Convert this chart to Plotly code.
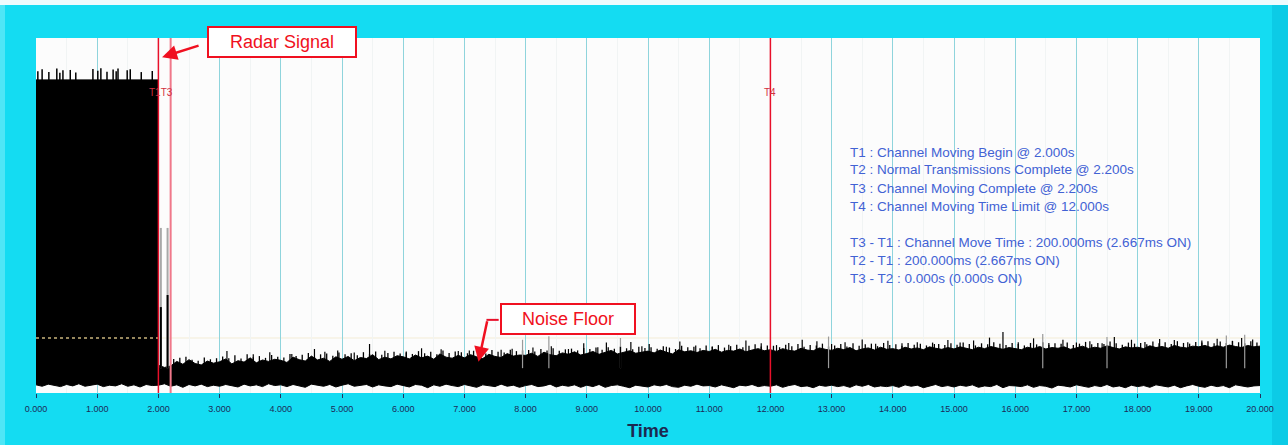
import plotly.graph_objects as go

# ---------------- data ----------------
x_ticks = list(range(0, 21))
tick_labels = [f"{v:.3f}" for v in x_ticks]

event_names = ["T1T3", "T4"]
event_times = {"T1": 2.0, "T2": 2.2, "T3": 2.2, "T4": 12.0}

# radar burst block (0 .. 2.0 s)
block_start = 0.0
block_end = 2.0
block_top = 88.2
block_spike_t = [0.03, 0.10, 0.21, 0.34, 0.39, 0.44, 0.56, 0.65, 0.93, 1.01,
                 1.06, 1.16, 1.26, 1.31, 1.34, 1.49, 1.54, 1.72, 1.90]
block_spike_y = [90.6, 91.2, 90.4, 91.4, 90.2, 90.9, 91.0, 90.3, 91.3, 90.8,
                 91.5, 90.5, 91.1, 90.6, 91.4, 90.9, 91.2, 90.4, 90.7]

# residual pulses between T1 and T3
pulse_t = [2.04, 2.15]
pulse_grey = [46.5, 46.5]
pulse_black = [24.2, 27.6]

# noise floor upper envelope, 2.2 s .. 20.0 s every 0.1 s
noise_top = [
    7.6, 8.9, 8.1, 9.4, 8.3, 7.9, 9.0, 8.4,
    8.8, 9.6, 8.2, 9.1, 8.7, 9.9, 8.5, 9.3, 8.9, 9.5,
    9.2, 8.6, 10.1, 9.4, 9.0, 10.4, 9.3, 9.8, 8.9, 10.2,
    9.5, 10.3, 9.1, 10.0, 9.7, 10.8, 9.4, 10.1, 9.6, 10.5,
    10.2, 9.6, 10.7, 9.9, 10.4, 9.5, 11.0, 10.1, 9.8, 10.6,
    9.9, 10.8, 10.2, 9.7, 10.9, 10.3, 10.0, 11.1, 10.4, 10.7,
    10.6, 11.2, 10.3, 11.5, 10.8, 10.5, 11.3, 10.9, 11.6, 10.7,
    11.1, 11.7, 10.9, 11.4, 12.0, 11.0, 11.5, 11.9, 11.2, 11.6,
    11.8, 11.3, 12.1, 11.5, 11.0, 12.2, 11.6, 11.9, 11.4, 12.0,
    11.7, 12.3, 11.5, 12.0, 11.8, 12.4, 11.6, 12.1, 12.5, 11.9,
    12.2, 11.7, 12.5, 12.0, 11.8, 12.6, 12.1, 11.9, 12.7, 12.3,
    12.0, 12.6, 12.2, 12.8, 11.9, 12.4, 12.7, 12.1, 12.9, 12.3,
    12.5, 12.1, 12.9, 12.4, 12.7, 12.2, 13.0, 12.6, 12.3, 12.8,
    12.4, 13.0, 12.6, 12.2, 12.9, 12.5, 13.1, 12.7, 12.3, 12.8,
    12.6, 12.2, 12.9, 12.5, 13.1, 12.4, 12.8, 12.6, 13.0, 12.3,
    12.7, 13.2, 12.5, 12.9, 12.6, 13.3, 12.8, 12.4, 13.0, 12.7,
    12.9, 12.5, 13.3, 12.8, 13.1, 12.6, 13.4, 12.9, 12.7, 13.2,
    13.0, 13.4, 12.8, 13.3, 12.9, 13.5, 13.1, 12.8, 13.4, 13.0, 13.2,
]
noise_start = 2.2
noise_step = 0.1

# in-between noise peaks, 2.25 s .. 19.95 s every 0.1 s
mid_peak = [
    9.6, 9.9, 10.2, 9.4, 9.1, 10.0, 9.5, 9.8,
    10.3, 9.8, 10.6, 9.7, 10.9, 10.1, 10.4, 9.9, 10.7, 10.2,
    10.0, 11.0, 10.4, 10.8, 11.3, 10.2, 10.9, 11.1, 10.5, 11.4,
    10.9, 11.2, 10.6, 11.5, 11.0, 11.7, 10.8, 11.3, 11.6, 11.1,
    11.4, 11.0, 11.8, 11.2, 11.6, 10.9, 12.0, 11.3, 11.7, 11.5,
    11.2, 11.9, 11.5, 11.1, 12.1, 11.6, 11.4, 12.2, 11.8, 12.0,
    12.1, 11.7, 12.4, 12.0, 12.6, 11.9, 12.3, 12.5, 12.0, 12.7,
    12.4, 12.8, 12.2, 12.9, 12.5, 13.1, 12.6, 12.3, 13.0, 12.7,
    12.9, 12.5, 13.2, 12.8, 12.4, 13.3, 12.9, 13.0, 12.6, 13.4,
    13.0, 13.5, 12.8, 13.2, 13.6, 12.9, 13.3, 13.7, 13.1, 13.4,
    13.3, 12.9, 13.6, 13.2, 13.8, 13.0, 13.5, 13.4, 13.9, 13.1,
    13.4, 13.8, 13.1, 14.0, 13.3, 13.7, 13.9, 13.2, 14.1, 13.5,
    13.7, 13.3, 14.1, 13.6, 13.9, 13.4, 14.2, 13.8, 13.5, 14.0,
    13.6, 14.2, 13.8, 13.4, 14.0, 13.7, 14.3, 13.9, 13.5, 14.1,
    13.8, 13.4, 14.1, 13.7, 14.3, 13.6, 14.0, 13.9, 14.2, 13.5,
    13.9, 14.4, 13.7, 14.1, 13.8, 14.5, 14.0, 13.6, 14.2, 13.9,
    14.1, 13.7, 14.5, 14.0, 14.3, 13.8, 14.6, 14.1, 13.9, 14.4,
    14.2, 14.6, 14.0, 14.5, 14.1, 14.7, 14.3, 14.0, 14.6, 14.2,
]
mid_start = 2.25

# lower edge of the trace, 0 .. 20 s every 0.1 s
lower_edge = [
    2.3, 1.9, 2.5, 2.1, 1.8, 2.4, 2.0, 2.6, 1.9, 2.2,
    2.5, 1.8, 2.2, 2.0, 2.6, 1.9, 2.3, 1.7, 2.4, 2.1,
    2.2, 2.6, 1.9, 2.3, 1.6, 2.4, 2.0, 2.5, 1.8, 2.2,
    1.9, 2.4, 2.1, 1.7, 2.5, 2.0, 2.3, 1.8, 2.6, 2.1,
    2.3, 1.8, 2.4, 2.0, 1.6, 2.5, 2.1, 1.9, 2.4, 1.7,
    2.2, 2.6, 1.9, 2.1, 2.4, 1.7, 2.3, 2.0, 1.8, 2.5,
    2.0, 1.7, 2.4, 2.2, 1.5, 2.3, 1.9, 2.5, 2.1, 1.8,
    2.4, 2.0, 1.6, 2.3, 2.1, 1.8, 2.5, 1.9, 2.2, 1.6,
    2.1, 2.4, 1.8, 2.0, 2.5, 1.7, 2.2, 1.9, 2.3, 1.6,
    2.2, 1.8, 2.4, 1.6, 2.1, 2.3, 1.9, 1.5, 2.2, 2.0,
    1.7, 2.3, 2.0, 2.4, 1.8, 1.6, 2.2, 1.9, 2.5, 2.0,
    2.1, 1.7, 2.3, 1.9, 1.5, 2.2, 2.0, 2.4, 1.8, 2.1,
    1.9, 2.3, 1.6, 2.1, 2.4, 1.8, 2.0, 1.5, 2.2, 1.9,
    2.2, 1.8, 2.1, 1.6, 2.3, 1.9, 2.4, 1.7, 2.0, 1.8,
    2.1, 1.6, 2.3, 1.9, 2.2, 1.5, 2.0, 2.4, 1.8, 2.1,
    1.7, 2.2, 1.9, 2.3, 1.6, 2.0, 1.8, 2.4, 1.5, 2.1,
    2.0, 1.8, 2.3, 1.6, 2.1, 1.9, 1.4, 2.2, 2.0, 1.7,
    2.3, 1.9, 1.6, 2.1, 1.8, 2.4, 1.7, 2.0, 1.5, 2.2,
    1.8, 2.1, 1.6, 2.3, 1.9, 1.7, 2.2, 1.5, 2.0, 2.4,
    1.9, 1.6, 2.2, 1.8, 2.1, 1.5, 2.3, 1.9, 1.7, 2.0,
    2.1,
]
lower_step = 0.1

# taller noise spikes
spike_t = [3.12, 3.55, 3.82, 4.18, 4.55, 4.72, 4.93, 5.20, 5.45, 5.70,
           6.05, 6.30, 6.62, 6.90, 7.08, 7.25, 7.60, 7.78, 8.12, 8.42,
           8.70, 8.95, 9.18, 9.32, 9.55, 9.72, 9.90, 10.02, 10.30, 10.52,
           10.78, 11.05, 11.32, 11.60, 11.85, 12.10, 12.30, 12.52, 12.76, 13.00,
           13.22, 13.50, 13.72, 13.92, 14.15, 14.40, 14.68, 14.90, 15.10, 15.32,
           15.58, 15.80, 16.05, 16.30, 16.55, 16.78, 17.00, 17.22, 17.42, 17.62,
           17.90, 18.12, 18.36, 18.60, 18.82, 19.05, 19.30, 19.55, 19.70, 19.88]
spike_y = [11.8, 10.9, 11.5, 11.0, 12.4, 11.6, 12.0, 11.4, 13.8, 11.9,
           11.7, 12.6, 12.3, 11.8, 12.0, 12.9, 12.2, 12.5, 12.8, 13.2,
           12.4, 14.0, 12.9, 14.2, 13.0, 14.4, 13.2, 13.8, 13.0, 14.5,
           13.4, 13.1, 13.6, 14.8, 14.0, 13.5, 14.1, 15.0, 14.6, 13.8,
           14.3, 15.1, 13.9, 14.7, 14.0, 14.3, 13.8, 14.9, 14.2, 14.8,
           15.6, 17.2, 14.3, 15.4, 14.1, 15.0, 14.2, 14.6, 14.0, 15.8,
           15.0, 14.4, 15.2, 14.9, 14.3, 14.8, 15.3, 14.6, 15.5, 15.1]
grey_spike_t = [7.95, 8.38, 9.55, 12.95, 16.45, 17.50, 19.45, 19.75]
grey_spike_y = [15.0, 16.0, 15.5, 15.9, 16.6, 15.8, 16.2, 16.4]
spike_base = 7.0

threshold_level = 15.5

legend_lines = [
    "T1 : Channel Moving Begin @ 2.000s",
    "T2 : Normal Transmissions Complete @ 2.200s",
    "T3 : Channel Moving Complete @ 2.200s",
    "T4 : Channel Moving Time Limit @ 12.000s",
    "",
    "T3 - T1 : Channel Move Time : 200.000ms (2.667ms ON)",
    "T2 - T1 : 200.000ms (2.667ms ON)",
    "T3 - T2 : 0.000s (0.000s ON)",
]

# ---------------- figure ----------------
W, H = 1288, 445
ML, MR, MT, MB = 36, 28, 38, 52
PW, PH = W - ML - MR, H - MT - MB
CYAN = "#14dcf2"
RED = "#e8102a"

fig = go.Figure()

# lower edge
lx = [round(i * lower_step, 2) for i in range(len(lower_edge))]
fig.add_trace(go.Scatter(x=lx, y=lower_edge, mode="lines",
                         line=dict(color="black", width=1), hoverinfo="skip"))

# upper envelope (block + noise) filled down to lower edge
nx = [round(noise_start + i * noise_step, 2) for i in range(len(noise_top))]
ux = [block_start, block_end, block_end, 2.1] + nx
uy = [block_top, block_top, 7.8, 7.2] + noise_top
fig.add_trace(go.Scatter(x=ux, y=uy, mode="lines", fill="tonexty",
                         fillcolor="black", line=dict(color="black", width=1),
                         hoverinfo="skip"))


def vsegs(ts, tops, base):
    xs, ys = [], []
    for t, v in zip(ts, tops):
        xs += [t, t, None]
        ys += [base, v, None]
    return xs, ys


mx = [round(mid_start + i * noise_step, 2) for i in range(len(mid_peak))]
mxs, mys = vsegs(mx, mid_peak, spike_base)
fig.add_trace(go.Scatter(x=mxs, y=mys, mode="lines", line=dict(color="black", width=1.3),
                         hoverinfo="skip"))
gx, gy = vsegs(grey_spike_t, grey_spike_y, spike_base)
fig.add_trace(go.Scatter(x=gx, y=gy, mode="lines", line=dict(color="#9a9a9a", width=1.2),
                         hoverinfo="skip"))
sx, sy = vsegs(spike_t, spike_y, spike_base)
fig.add_trace(go.Scatter(x=sx, y=sy, mode="lines", line=dict(color="black", width=1.2),
                         hoverinfo="skip"))
bx, by = vsegs(block_spike_t, block_spike_y, block_top - 1)
fig.add_trace(go.Scatter(x=bx, y=by, mode="lines", line=dict(color="black", width=1.5),
                         hoverinfo="skip"))
px_, py_ = vsegs(pulse_t, pulse_grey, spike_base)
fig.add_trace(go.Scatter(x=px_, y=py_, mode="lines", line=dict(color="#a8a8a8", width=2),
                         hoverinfo="skip"))
px2, py2 = vsegs(pulse_t, pulse_black, spike_base)
fig.add_trace(go.Scatter(x=px2, y=py2, mode="lines", line=dict(color="black", width=2),
                         hoverinfo="skip"))

shapes = []
# threshold dotted line
shapes.append(dict(type="line", xref="x", yref="y", x0=block_end, x1=20,
                   y0=threshold_level, y1=threshold_level,
                   line=dict(color="#f3ecd6", width=1), layer="below"))
shapes.append(dict(type="line", xref="x", yref="y", x0=block_start, x1=block_end,
                   y0=threshold_level, y1=threshold_level,
                   line=dict(color="#c9b47c", width=1.5, dash="dot")))
# event lines
shapes.append(dict(type="line", xref="x", yref="paper", x0=event_times["T1"], x1=event_times["T1"],
                   y0=0, y1=1, line=dict(color=RED, width=1.5)))
shapes.append(dict(type="line", xref="x", yref="paper", x0=event_times["T3"], x1=event_times["T3"],
                   y0=0, y1=1, line=dict(color="#f0788a", width=2)))
shapes.append(dict(type="line", xref="x", yref="paper", x0=event_times["T4"], x1=event_times["T4"],
                   y0=0, y1=1, line=dict(color=RED, width=1.5)))
# top light strip and side shading of the frame
ptop = 1 + MT / PH
shapes.append(dict(type="rect", xref="paper", yref="paper", x0=-1, x1=2,
                   y0=ptop - 5 / PH, y1=ptop + 0.1,
                   fillcolor="#eefbfd", line=dict(width=0), layer="below"))
shapes.append(dict(type="rect", xref="paper", yref="paper",
                   x0=1 + (1272 - (W - MR)) / PW, x1=2,
                   y0=-1, y1=ptop - 5 / PH,
                   fillcolor="#0ccbe6", line=dict(width=0), layer="below"))
shapes.append(dict(type="rect", xref="paper", yref="paper",
                   x0=-1, x1=-(ML - 5) / PW,
                   y0=-1, y1=ptop - 5 / PH,
                   fillcolor="#4fe6f6", line=dict(width=0), layer="below"))
# noise-floor arrow tail segment
shapes.append(dict(type="line", xref="x", yref="y", x0=7.36, x1=7.56, y0=20.6, y1=20.6,
                   line=dict(color=RED, width=2)))

annotations = []
annotations.append(dict(x=2.05, y=84.6, xref="x", yref="y", text=event_names[0],
                        showarrow=False, font=dict(family="Liberation Sans", size=10, color="#d23040")))
annotations.append(dict(x=12.0, y=84.6, xref="x", yref="y", text=event_names[1],
                        showarrow=False, font=dict(family="Liberation Sans", size=10, color="#d23040")))

for i, line in enumerate(legend_lines):
    if not line:
        continue
    yy = 152 + 18 * i
    annotations.append(dict(x=(848 - ML) / PW, y=(H - MB - yy) / PH,
                            xref="paper", yref="paper", xanchor="left", yanchor="middle",
                            text=line, showarrow=False,
                            font=dict(family="Liberation Sans", size=13.5, color="#4262d4")))

# callout boxes
annotations.append(dict(x=(282 - ML) / PW, y=(H - MB - 42) / PH,
                        xref="paper", yref="paper", text="Radar Signal", showarrow=False,
                        font=dict(family="Liberation Sans", size=18, color="#f01020"),
                        bgcolor="white", bordercolor="#f01020", borderwidth=2,
                        width=144, height=26, xanchor="center", yanchor="middle"))
annotations.append(dict(x=(568 - ML) / PW, y=(H - MB - 319) / PH,
                        xref="paper", yref="paper", text="Noise Floor", showarrow=False,
                        font=dict(family="Liberation Sans", size=18, color="#f01020"),
                        bgcolor="white", bordercolor="#f01020", borderwidth=2,
                        width=130, height=26, xanchor="center", yanchor="middle"))
# arrows
annotations.append(dict(x=2.06, y=94.6, xref="x", yref="y", text="", showarrow=True,
                        ax=38, ay=-12, arrowhead=2, arrowsize=1.2, arrowwidth=2.5,
                        arrowcolor="#f01020"))
annotations.append(dict(x=7.23, y=8.8, xref="x", yref="y", text="", showarrow=True,
                        ax=9, ay=-42, arrowhead=2, arrowsize=1.2, arrowwidth=2.5,
                        arrowcolor="#f01020"))

fig.update_layout(
    width=W, height=H,
    margin=dict(l=ML, r=MR, t=MT, b=MB, autoexpand=False),
    paper_bgcolor=CYAN,
    plot_bgcolor="#fcfcfc",
    showlegend=False,
    shapes=shapes,
    annotations=annotations,
    xaxis=dict(range=[0, 20], tickvals=x_ticks, ticktext=tick_labels,
               automargin=False,
               showgrid=True, gridcolor="#8fd4dc", gridwidth=1,
               minor=dict(tickvals=[v + 0.5 for v in x_ticks[:-1]], showgrid=True,
                          gridcolor="#f1f4f4", gridwidth=1),
               ticks="outside", ticklen=4, tickcolor="#23325e",
               ticklabelstandoff=3,
               tickfont=dict(family="Liberation Sans", size=9, color="#1c2a58"),
               title=dict(text="<b>Time</b>", standoff=11,
                          font=dict(family="Liberation Sans", size=18, color="#1c2850")),
               zeroline=False, showline=False, fixedrange=True),
    yaxis=dict(range=[0, 100], showgrid=False, showticklabels=False, ticks="",
               automargin=False,
               zeroline=False, showline=False, fixedrange=True),
)

fig.write_html("out.html", config={"displayModeBar": False},
               post_script="document.body.style.margin='0';document.body.style.overflow='hidden';")
